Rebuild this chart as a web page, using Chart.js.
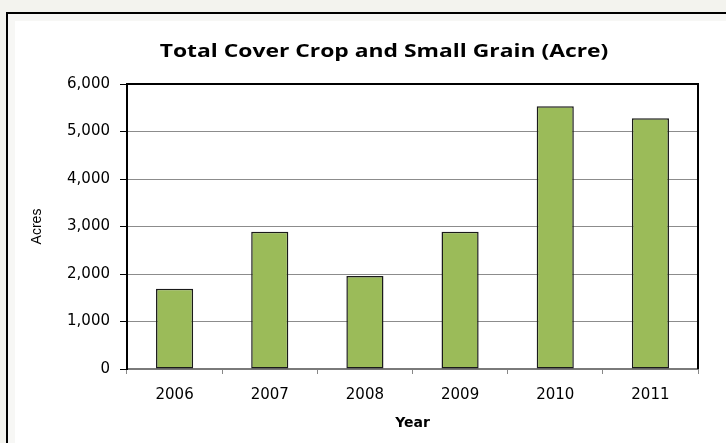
<!DOCTYPE html>
<html>
<head>
	<title>Total Cover Crop and Small Grain (Acre)</title>
	<script src="https://cdn.jsdelivr.net/npm/chart.js@4.4.0/dist/chart.umd.min.js"></script>
	<style>
		html, body { margin: 0; padding: 0; background: #f3f3ee; overflow: hidden; }
		#frame {
			position: absolute; left: 6px; top: 12px; width: 740px; height: 460px;
			border: 2px solid #000; background: #fff; box-shadow: inset 0 0 0 7px #f7f7f5;
		}
		#wrap { position: absolute; left: 0; top: 0; width: 726px; height: 443px; }
	</style>
</head>
<body>
	<div id="frame"></div>
	<div id="wrap"><canvas id="myChart"></canvas></div>
	<script>
		const years = ["2006", "2007", "2008", "2009", "2010", "2011"];
		const acres = [1690, 2890, 1960, 2890, 5530, 5280];
		const yTicks = [0, 1000, 2000, 3000, 4000, 5000, 6000];

		// title is centred a bit left of the plot and looks stretched wide, so draw it by hand
		const titlePlugin = {
			id: "titleText",
			afterDraw(chart) {
				const ctx = chart.ctx;
				ctx.save();
				ctx.translate(384, 52);
				ctx.scale(1.27, 1);
				ctx.font = "bold 18px 'Open Sans'";
				ctx.fillStyle = "#000";
				ctx.textAlign = "center";
				ctx.textBaseline = "middle";
				ctx.fillText("Total Cover Crop and Small Grain (Acre)", 0, 0);
				ctx.restore();
			}
		};

		// black frame on top, left and right of the plot
		const boxPlugin = {
			id: "plotBox",
			afterDatasetsDraw(chart) {
				const a = chart.chartArea;
				const ctx = chart.ctx;
				ctx.save();
				ctx.strokeStyle = "#000";
				ctx.lineWidth = 2;
				ctx.beginPath();
				ctx.moveTo(a.left, a.bottom);
				ctx.lineTo(a.left, a.top);
				ctx.lineTo(a.right, a.top);
				ctx.lineTo(a.right, a.bottom);
				ctx.stroke();
				ctx.restore();
			}
		};

		new Chart("myChart", {
			type: "bar",
			data: {
				labels: years,
				datasets: [{
					data: acres,
					backgroundColor: "#9bbb59",
					borderColor: "#1a1a1a",
					borderWidth: 1.5,
					borderSkipped: false,
					barPercentage: 0.39,
					categoryPercentage: 1
				}]
			},
			options: {
				responsive: true,
				maintainAspectRatio: false,
				animation: false,
				layout: { padding: { left: 24, top: 84, right: 28, bottom: 0 } },
				plugins: {
					legend: { display: false },
					title: { display: false },
					tooltip: { enabled: false }
				},
				scales: {
					x: {
						afterFit(scale) { scale.height = 74; },
						grid: { offset: true, drawOnChartArea: false, tickLength: 5, tickColor: "#888" },
						border: { color: "#7a7a7a", width: 2 },
						ticks: { color: "#000", padding: 12, font: { family: "'DejaVu Sans'", size: 15 } },
						title: {
							display: true, text: "Year", color: "#000",
							font: { family: "'DejaVu Sans'", size: 14, weight: "bold" },
							padding: { top: 4, bottom: 11 }
						}
					},
					y: {
						min: 0,
						max: 6000,
						afterFit(scale) { scale.width = 103; },
						afterBuildTicks(scale) { scale.ticks = yTicks.map(v => ({ value: v })); },
						grid: { color: "#8c8c8c", tickColor: "#000", tickLength: 7 },
						border: { color: "#000", width: 2 },
						ticks: {
							color: "#000", padding: 10,
							font: { family: "'DejaVu Sans'", size: 15 },
							callback: v => v.toLocaleString("en-US")
						},
						title: {
							display: true, text: "Acres", color: "#000",
							font: { family: "'Liberation Sans'", size: 14 },
							padding: { top: 5, bottom: 0 }
						}
					}
				}
			},
			plugins: [titlePlugin, boxPlugin]
		});
	</script>
</body>
</html>
